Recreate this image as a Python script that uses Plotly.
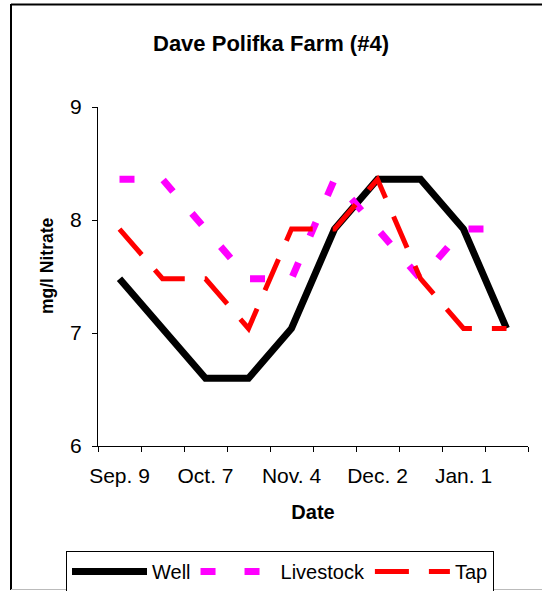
import plotly.graph_objects as go

# ---- data ----
dates = ["Sep. 9", "", "Oct. 7", "", "Nov. 4", "", "Dec. 2", "", "Jan. 1", ""]
well = [7.48, 7.04, 6.60, 6.60, 7.04, 7.92, 8.36, 8.36, 7.92, 7.04]
livestock = [8.36, 8.36, 7.92, 7.48, 7.48, 8.36, 7.92, 7.48, 7.92, 7.92]
tap = [7.92, 7.48, 7.48, 7.04, 7.92, 7.92, 8.36, 7.48, 7.04, 7.04]
y_ticks = [6, 7, 8, 9]

x_idx = list(range(len(dates)))
boundaries = [i - 0.5 for i in range(len(dates) + 1)]

FONT = "Arial, Liberation Sans, sans-serif"

fig = go.Figure()
fig.add_trace(go.Scatter(x=x_idx, y=well, name="Well", mode="lines",
                         line=dict(color="#000000", width=7)))
fig.add_trace(go.Scatter(x=x_idx, y=livestock, name="Livestock", mode="lines",
                         line=dict(color="#FF00FF", width=7, dash="15px,29px")))
fig.add_trace(go.Scatter(x=x_idx, y=tap, name="Tap", mode="lines",
                         line=dict(color="#FF0000", width=5, dash="34px,20px")))

W, H = 542, 591
L, R, T, B = 98, 14, 107, 145
pw, ph = W - L - R, H - T - B

def px_x(p):
    return (p - L) / pw

def px_y(p):
    return (H - B - p) / ph

fig.update_layout(
    width=W, height=H,
    margin=dict(l=L, r=R, t=T, b=B, autoexpand=False),
    paper_bgcolor="white", plot_bgcolor="white",
    font=dict(family=FONT, size=21, color="black"),
    title=dict(text="<b>Dave Polifka Farm (#4)</b>", x=0.5, xref="container",
               y=1 - 43 / H, yref="container", xanchor="center", yanchor="middle",
               font=dict(size=22, family=FONT, color="black")),
    showlegend=True,
    legend=dict(orientation="h", xref="container", yref="container",
                x=280 / W, y=1 - 551 / H, xanchor="center", yanchor="top",
                bordercolor="black", borderwidth=1, bgcolor="white",
                font=dict(size=20, family=FONT), itemwidth=75,
                tracegroupgap=0),
    xaxis=dict(range=[-0.5, len(dates) - 0.5], tickmode="array",
               tickvals=x_idx, ticktext=dates, ticks="",
               showgrid=False, zeroline=False, showline=True,
               linecolor="black", linewidth=1,
               ticklabelstandoff=11,
               minor=dict(tickmode="array", tickvals=boundaries, ticks="outside",
                          ticklen=5, tickcolor="black", tickwidth=1, showgrid=False),
               title=dict(text="<b>Date</b>", font=dict(size=20, family=FONT),
                          standoff=18)),
    yaxis=dict(range=[6, 9], tickmode="array", tickvals=y_ticks,
               ticks="outside", ticklen=5, tickcolor="black", tickwidth=1,
               showgrid=False, zeroline=False, showline=True,
               linecolor="black", linewidth=1, ticklabelstandoff=6),
    annotations=[
        dict(text="<b>mg/l Nitrate</b>", xref="paper", yref="paper",
             x=px_x(47), y=px_y(266), xanchor="center", yanchor="middle",
             textangle=-90, showarrow=False,
             font=dict(size=17.5, family=FONT, color="black")),
    ],
    shapes=[
        dict(type="line", xref="paper", yref="paper", x0=px_x(11), x1=px_x(545),
             y0=px_y(4.5), y1=px_y(4.5), line=dict(color="black", width=2)),
        dict(type="line", xref="paper", yref="paper", x0=px_x(11), x1=px_x(11),
             y0=px_y(4), y1=px_y(590), line=dict(color="black", width=2)),
        dict(type="line", xref="paper", yref="paper", x0=px_x(11), x1=px_x(545),
             y0=px_y(589.5), y1=px_y(589.5), line=dict(color="#BBBBBB", width=1)),
    ],
)

fig.write_html("out.html", config={"displayModeBar": False},
               post_script="document.body.style.margin='0';document.body.style.overflow='hidden';")
